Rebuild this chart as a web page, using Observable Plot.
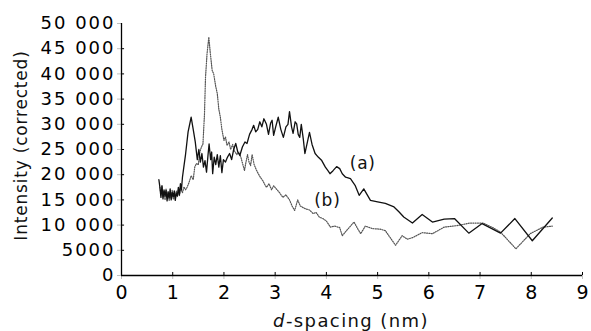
<!DOCTYPE html>
<html>
<head>
<meta charset="utf-8">
<script src="https://cdn.jsdelivr.net/npm/d3@7"></script>
<script src="https://cdn.jsdelivr.net/npm/@observablehq/plot@0.6"></script>
<style>
  html, body { margin: 0; padding: 0; background: #fff; }
</style>
</head>
<body>
<div id="chart"></div>
<script>
// ---- data ----
const xTicks = [0, 1, 2, 3, 4, 5, 6, 7, 8, 9];
const yTicks = [0, 5000, 10000, 15000, 20000, 25000, 30000, 35000, 40000, 45000, 50000];

// curve (a): solid black
const aD = [0.73,0.75,0.77,0.79,0.81,0.83,0.85,0.87,0.89,0.91,0.93,0.95,0.97,0.99,1.01,1.03,1.05,1.07,1.09,1.11,1.13,1.15,1.17,1.19,1.21,
  1.25,1.30,1.36,1.40,1.44,1.48,1.51,1.54,1.57,1.60,1.63,1.66,1.69,1.71,1.74,1.76,1.78,1.81,1.84,1.87,1.90,1.93,1.96,1.99,
  2.03,2.07,2.11,2.15,2.19,2.23,2.27,2.31,2.36,2.41,2.45,2.50,2.55,2.58,2.62,2.66,2.70,2.74,2.78,2.83,2.87,2.91,2.94,2.97,
  3.01,3.06,3.11,3.16,3.21,3.25,3.28,3.32,3.35,3.39,3.42,3.45,3.48,3.51,3.55,3.58,3.63,3.67,3.72,3.78,3.84,3.91,3.98,
  4.03,4.07,4.13,4.20,4.26,4.31,4.375,4.47,4.56,4.64,4.73,4.86,5.0,5.15,5.32,5.42,5.51,5.68,5.87,6.07,6.3,6.5,6.78,7.04,7.4,7.68,8.02,8.41];
const aI = [19000,17500,15500,17800,15200,17000,15800,16900,14800,16600,15400,17200,15000,16500,15600,16800,14900,16400,15800,17500,16000,18200,17000,19500,21000,
  24000,28500,31400,29000,26500,23000,25000,22500,24200,21500,22800,20500,24000,26100,23000,24500,20200,23500,22000,24000,21500,23800,20400,23000,
  22500,23500,24200,23000,25000,26200,24500,23800,25500,26500,26200,28000,29000,29800,28500,29000,30500,29500,31100,30000,28000,30200,30800,27800,
  29500,31400,29000,27400,29500,30000,32500,29500,28200,30500,30100,28000,27400,30000,27000,24200,26500,28400,26000,24200,23500,22800,21500,
  20800,20200,20800,21600,21200,20200,19500,19200,17900,15900,17200,14900,14600,14300,13600,12600,11600,10400,12100,10600,11200,11300,8400,10300,8400,11300,6900,11400];

// curve (b): dotted grey
const bD = [0.75,0.77,0.79,0.81,0.83,0.85,0.87,0.89,0.91,0.93,0.95,0.97,0.99,1.01,1.03,1.05,1.07,1.09,1.11,1.13,1.16,1.19,1.22,1.25,1.28,1.32,1.36,1.40,1.43,1.46,
  1.50,1.53,1.56,1.59,1.62,1.64,1.67,1.705,1.73,1.77,1.80,1.84,1.87,1.90,1.93,1.96,2.0,2.03,2.06,2.10,2.13,2.17,2.20,2.25,2.29,2.33,2.37,2.40,2.43,2.46,2.49,
  2.52,2.55,2.59,2.63,2.67,2.71,2.76,2.80,2.83,2.88,2.93,2.97,3.02,3.08,3.15,3.21,3.28,3.33,3.38,3.44,3.49,3.54,3.60,3.67,3.74,3.80,3.86,3.93,4.0,
  4.08,4.16,4.26,4.31,4.40,4.54,4.61,4.67,4.76,4.9,5.05,5.15,5.35,5.48,5.58,5.68,5.87,6.07,6.3,6.55,6.8,7.06,7.25,7.4,7.7,7.98,8.23,8.41];
const bI = [17500,16000,17800,15600,16800,15000,17200,15400,16600,14900,16200,15300,17000,15100,16400,15200,16800,15600,16900,15800,17200,16400,17600,17000,17500,18500,19800,19000,21500,22200,
  22000,24500,25500,26100,32000,39300,44000,47300,44500,40700,40000,37500,36100,33000,31400,29000,26800,27500,25800,26500,25000,26000,24800,24000,24500,23500,22000,20800,22500,24000,22500,
  21800,24000,22000,21000,20200,19500,18800,18000,17500,18200,17000,17800,17200,16500,15500,16000,15000,13800,12900,15000,13800,13500,13200,13000,12300,12500,11600,11300,10800,
  9600,9800,9500,7900,9000,10600,9300,8300,9800,9300,9200,8900,6000,7900,7200,7500,8500,8300,9600,9900,10400,10400,9500,8600,5300,8300,9600,9800];

const seriesLabels = ["(a)", "(b)"];
const labelD = [4.71, 4.02];
const labelI = [22200, 14900];

const xLabelItalic = "d";
const xLabelRest = "-spacing (nm)";
const yLabel = "Intensity (corrected)";

// ---- build ----
const A = aD.map((d, i) => ({d, I: aI[i]}));
const B = bD.map((d, i) => ({d, I: bI[i]}));
const L = seriesLabels.map((t, i) => ({t, d: labelD[i], I: labelI[i]}));
const fmt = v => v >= 10000 ? d3.format(",")(v).replace(/,/g, " ") : String(v);

const W = 591, H = 331;
const svg = Plot.plot({
  width: W, height: H,
  marginLeft: 121, marginRight: 9, marginTop: 23, marginBottom: 56,
  style: {fontFamily: "DejaVu Sans, sans-serif", fontSize: "18px", color: "#000", background: "#fff"},
  x: {domain: [0, 9]},
  y: {domain: [0, 50000]},
  marks: [
    Plot.line(B, {x: "d", y: "I", stroke: "#555", strokeWidth: 1.2, strokeDasharray: "1,1.3"}),
    Plot.line(A, {x: "d", y: "I", stroke: "#111", strokeWidth: 1.3}),
    Plot.text(L, {x: "d", y: "I", text: "t", fontSize: 17, fill: "#111"}),
    Plot.ruleX([0], {y1: 0, y2: 50000, stroke: "#000", strokeWidth: 1.3}),
    Plot.ruleY([0], {x1: 0, x2: 9, stroke: "#000", strokeWidth: 1.3}),
    Plot.ruleY(yTicks.slice(0, -1), {x1: 0, x2: 0.06, stroke: "#000"}),
    Plot.ruleX(xTicks, {y1: 0, y2: 600, stroke: "#000"}),
    Plot.axisY({ticks: yTicks, tickFormat: fmt, tickSize: 4, tickPadding: 2, label: null, fontSize: 18, stroke: "#000", strokeWidth: 0.25}),
    Plot.axisX({ticks: xTicks, tickSize: 4, tickPadding: 6, label: null, fontSize: 19, stroke: "#000", strokeWidth: 0.25}),
    Plot.text([yLabel], {frameAnchor: "left", textAnchor: "middle", rotate: -90, dx: -100, dy: -4, fontSize: 17, fill: "#111"})
  ]
});

const s = d3.select(svg);
// widen the tick label and label spacing like the scanned original
s.selectAll("g[aria-label='y-axis tick label'] text").attr("letter-spacing", "2px");
s.selectAll("g[aria-label='text'] text").attr("letter-spacing", "0.8px");

// x-axis title with italic "d"
const t = s.append("text")
  .attr("x", 351).attr("y", 327)
  .attr("text-anchor", "middle")
  .attr("font-family", "DejaVu Sans, sans-serif")
  .attr("font-size", 18)
  .attr("letter-spacing", "1.4px")
  .attr("fill", "#111");
t.append("tspan").attr("font-style", "italic").text(xLabelItalic);
t.append("tspan").text(xLabelRest);

document.getElementById("chart").appendChild(svg);
</script>
</body>
</html>
